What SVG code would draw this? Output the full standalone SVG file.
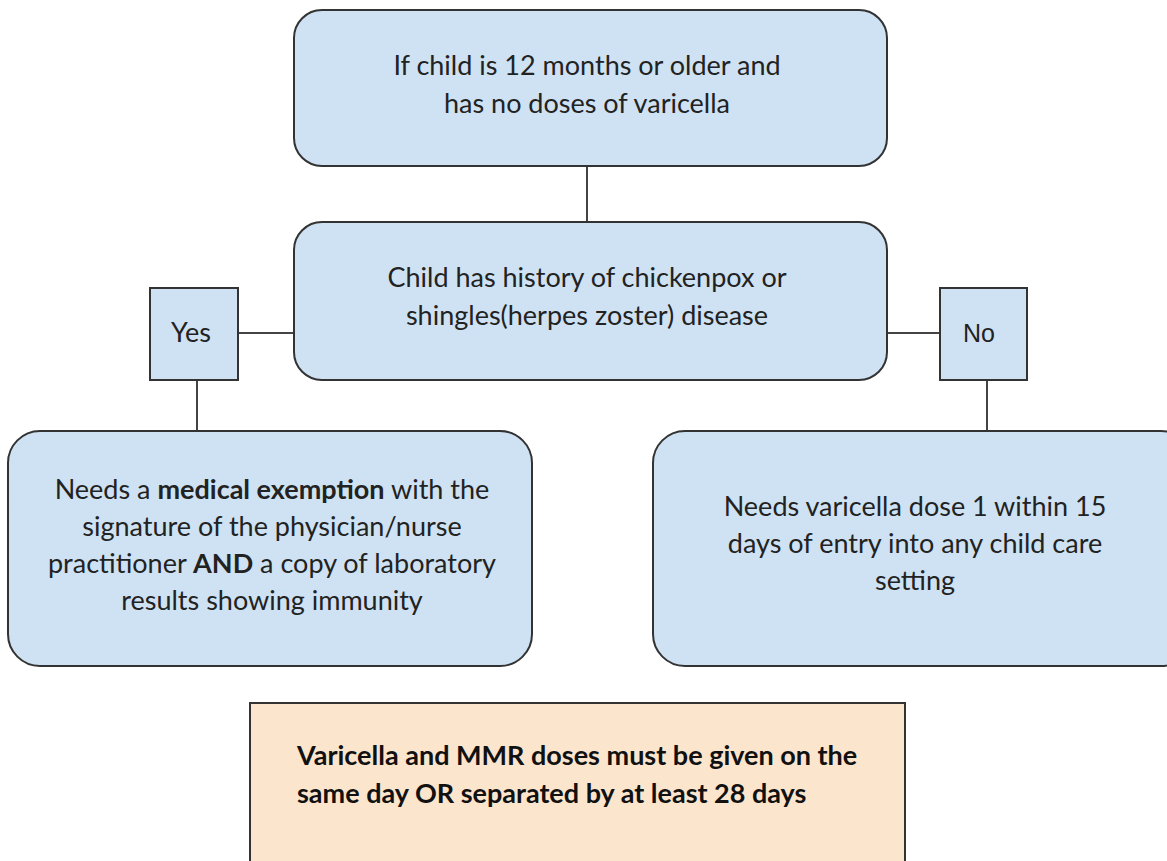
<svg xmlns="http://www.w3.org/2000/svg" width="1167" height="861" viewBox="0 0 1167 861">
  <style>
    .box { fill: #cfe2f3; stroke: #333333; stroke-width: 2; }
    .note { fill: #fce5cd; stroke: #333333; stroke-width: 2; }
    .link { stroke: #444444; stroke-width: 2; fill: none; }
    .t { font-family: Lato, "Liberation Sans", sans-serif; font-size: 27px; fill: #222222; text-anchor: middle; }
    .a { font-family: "Liberation Sans", Arial, sans-serif; font-size: 25px; fill: #222222; text-anchor: middle; }
    .b { font-weight: bold; }
    .n { font-family: Lato, "Liberation Sans", sans-serif; font-size: 27px; font-weight: bold; fill: #111111; }
  </style>
  <rect width="1167" height="861" fill="#ffffff"/>

  <g id="connectors">
    <line class="link" x1="587" y1="166" x2="587" y2="222"/>
    <line class="link" x1="238" y1="333" x2="294" y2="333"/>
    <line class="link" x1="197" y1="380" x2="197" y2="431"/>
    <line class="link" x1="887" y1="333" x2="940" y2="333"/>
    <line class="link" x1="987" y1="380" x2="987" y2="431"/>
  </g>

  <g id="start">
    <rect class="box" x="294" y="10" width="593" height="156" rx="28"/>
    <text class="t" x="587" y="75">If child is 12 months or older and</text>
    <text class="t" x="587" y="113">has no doses of varicella</text>
  </g>

  <g id="history">
    <rect class="box" x="294" y="222" width="593" height="158" rx="28"/>
    <text class="t" x="587" y="287">Child has history of chickenpox or</text>
    <text class="t" x="587" y="325">shingles(herpes zoster) disease</text>
  </g>

  <g id="yes">
    <rect class="box" x="150" y="288" width="88" height="92"/>
    <text class="t" x="191" y="342">Yes</text>
  </g>

  <g id="no">
    <rect class="box" x="940" y="288" width="87" height="92"/>
    <text class="a" x="979" y="342">No</text>
  </g>

  <g id="exemption">
    <rect class="box" x="8" y="431" width="524" height="235" rx="32"/>
    <text class="t" x="272" y="499">Needs a <tspan class="b">medical exemption</tspan> with the</text>
    <text class="t" x="272" y="536">signature of the physician/nurse</text>
    <text class="t" x="272" y="573">practitioner <tspan class="b">AND</tspan> a copy of laboratory</text>
    <text class="t" x="272" y="610">results showing immunity</text>
  </g>

  <g id="dose">
    <rect class="box" x="653" y="431" width="540" height="235" rx="32"/>
    <text class="t" x="915" y="516">Needs varicella dose 1 within 15</text>
    <text class="t" x="915" y="553">days of entry into any child care</text>
    <text class="t" x="915" y="590">setting</text>
  </g>

  <g id="spacing-note">
    <rect class="note" x="250" y="703" width="655" height="180"/>
    <text class="n" x="297" y="765">Varicella and MMR doses must be given on the</text>
    <text class="n" x="297" y="803">same day OR separated by at least 28 days</text>
  </g>
</svg>
